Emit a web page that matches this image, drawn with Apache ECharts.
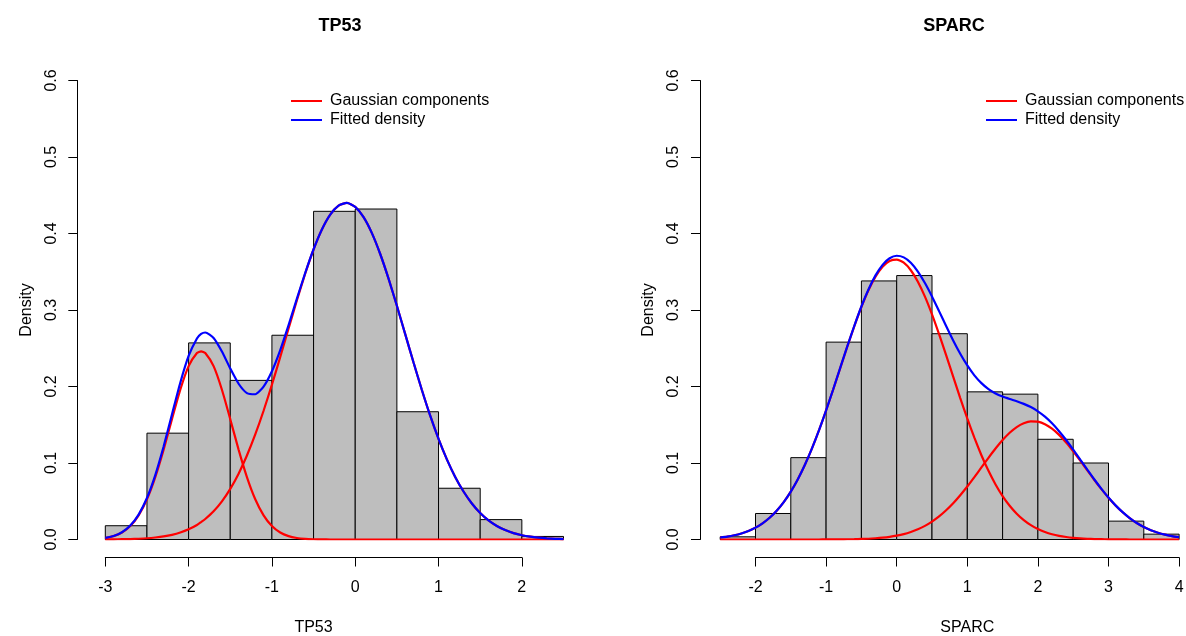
<!DOCTYPE html>
<html>
<head>
<meta charset="utf-8">
<script src="https://cdn.jsdelivr.net/npm/echarts@6/dist/echarts.min.js"></script>
<style>
  html, body { margin: 0; padding: 0; background: #fff; }
  #chart { width: 1186px; height: 636px; }
</style>
</head>
<body>
<div id="chart"></div>
<script>
// histogram breaks and densities
var tp53Breaks = [-3, -2.5, -2, -1.5, -1, -0.5, 0, 0.5, 1, 1.5, 2, 2.5];
var tp53Density = [0.018, 0.139, 0.257, 0.208, 0.267, 0.429, 0.432, 0.167, 0.067, 0.026, 0.004];

var sparcBreaks = [-2.5, -2, -1.5, -1, -0.5, 0, 0.5, 1, 1.5, 2, 2.5, 3, 3.5, 4];
var sparcDensity = [0.0035, 0.034, 0.107, 0.258, 0.338, 0.345, 0.269, 0.193, 0.190, 0.131, 0.100, 0.024, 0.007];

// curves
var tp53X = [-3.0, -2.9, -2.8, -2.7, -2.6, -2.5, -2.4, -2.3, -2.2, -2.1, -2.0, -1.9, -1.85, -1.8, -1.7, -1.6, -1.5,
  -1.4, -1.3, -1.2, -1.1, -1.0, -0.9, -0.8, -0.7, -0.6, -0.5, -0.4, -0.3, -0.2, -0.1, 0.0, 0.1, 0.2, 0.3,
  0.4, 0.5, 0.6, 0.7, 0.8, 0.9, 1.0, 1.1, 1.2, 1.3, 1.4, 1.5, 1.6, 1.7, 1.8, 1.9, 2.0, 2.1, 2.2, 2.3, 2.4, 2.5];
var tp53Comp1 = [0.0020, 0.0044, 0.0091, 0.0176, 0.0316, 0.0526, 0.0816, 0.1175, 0.1573, 0.1958, 0.2266,
  0.2438, 0.2460, 0.2438, 0.2266, 0.1958, 0.1573, 0.1175, 0.0816, 0.0526, 0.0316, 0.0176, 0.0091, 0.0044, 0.0020,
  0.0008, 0.0003, 0.0001, 0, 0, 0, 0, 0, 0, 0, 0, 0, 0, 0, 0, 0, 0, 0, 0, 0, 0, 0, 0, 0, 0, 0, 0, 0, 0, 0, 0, 0];
var tp53Comp2 = [0.0001, 0.0002, 0.0004, 0.0006, 0.0010, 0.0016, 0.0026, 0.0040, 0.0061, 0.0091, 0.0133,
  0.0190, 0.0228, 0.0268, 0.0369, 0.0499, 0.0662, 0.0861, 0.1098, 0.1373, 0.1683, 0.2024, 0.2386, 0.2759, 0.3128,
  0.3477, 0.3791, 0.4052, 0.4247, 0.4365, 0.4400, 0.4348, 0.4214, 0.4005, 0.3732, 0.3410, 0.3055, 0.2684,
  0.2313, 0.1954, 0.1618, 0.1315, 0.1047, 0.0818, 0.0627, 0.0471, 0.0347, 0.0250, 0.0177, 0.0123, 0.0084,
  0.0056, 0.0037, 0.0024, 0.0015, 0.0009, 0.0006];
var tp53Fitted = [0.0021, 0.0046, 0.0095, 0.0182, 0.0326, 0.0542, 0.0842, 0.1215, 0.1634, 0.2049, 0.2399,
  0.2628, 0.2688, 0.2706, 0.2635, 0.2457, 0.2235, 0.2036, 0.1914, 0.1899, 0.1999, 0.2200, 0.2477, 0.2803, 0.3148,
  0.3485, 0.3794, 0.4053, 0.4247, 0.4365, 0.4400, 0.4348, 0.4214, 0.4005, 0.3732, 0.3410, 0.3055, 0.2684,
  0.2313, 0.1954, 0.1618, 0.1315, 0.1047, 0.0818, 0.0627, 0.0471, 0.0347, 0.0250, 0.0177, 0.0123, 0.0084,
  0.0056, 0.0037, 0.0024, 0.0015, 0.0009, 0.0006];

var sparcX = [-2.5, -2.4, -2.3, -2.2, -2.1, -2.0, -1.9, -1.8, -1.7, -1.6, -1.5, -1.4, -1.3, -1.2, -1.1, -1.0,
  -0.9, -0.8, -0.7, -0.6, -0.5, -0.4, -0.3, -0.2, -0.1, 0.0, 0.1, 0.2, 0.3, 0.4, 0.5, 0.6, 0.7, 0.8, 0.9,
  1.0, 1.1, 1.2, 1.3, 1.4, 1.5, 1.6, 1.7, 1.8, 1.9, 2.0, 2.1, 2.2, 2.3, 2.4, 2.5, 2.6, 2.7, 2.8, 2.9,
  3.0, 3.1, 3.2, 3.3, 3.4, 3.5, 3.6, 3.7, 3.8, 3.9, 4.0];
var sparcComp1 = [0.0026, 0.0038, 0.0055, 0.0079, 0.0112, 0.0155, 0.0212, 0.0284, 0.0376, 0.0489,
  0.0626, 0.0788, 0.0977, 0.1191, 0.1429, 0.1687, 0.1960, 0.2241, 0.2521, 0.2790,
  0.3039, 0.3258, 0.3436, 0.3566, 0.3641, 0.3659, 0.3618, 0.3520, 0.3370, 0.3175,
  0.2943, 0.2684, 0.2409, 0.2128, 0.1849, 0.1582, 0.1331, 0.1102, 0.0898, 0.0720,
  0.0568, 0.0441, 0.0337, 0.0253, 0.0187, 0.0136, 0.0098, 0.0069, 0.0048, 0.0033,
  0.0022, 0.0014, 0.0009, 0.0006, 0.0004, 0.0002, 0.0001, 0.0001, 0, 0, 0, 0, 0, 0, 0, 0];
var sparcComp2 = [0, 0, 0, 0, 0, 0, 0, 0, 0, 0, 0, 0, 0, 0, 0,
  0.0001, 0.0001, 0.0002, 0.0003, 0.0004, 0.0007, 0.0010, 0.0016, 0.0024, 0.0035,
  0.0050, 0.0070, 0.0098, 0.0133, 0.0178, 0.0234, 0.0301, 0.0382, 0.0474, 0.0579,
  0.0693, 0.0815, 0.0942, 0.1068, 0.1189, 0.1300, 0.1395, 0.1470, 0.1520, 0.1544,
  0.1540, 0.1508, 0.1450, 0.1368, 0.1268, 0.1153, 0.1030, 0.0904, 0.0778, 0.0658,
  0.0546, 0.0445, 0.0356, 0.0280, 0.0216, 0.0163, 0.0122, 0.0089, 0.0064, 0.0045, 0.0031];
var sparcFitted = [0.0026, 0.0038, 0.0055, 0.0079, 0.0112, 0.0155, 0.0212, 0.0284, 0.0376, 0.0489,
  0.0626, 0.0788, 0.0977, 0.1191, 0.1429,
  0.1688, 0.1961, 0.2243, 0.2524, 0.2794, 0.3046, 0.3268, 0.3452, 0.3590, 0.3676,
  0.3709, 0.3688, 0.3618, 0.3503, 0.3353, 0.3177, 0.2985, 0.2791, 0.2602, 0.2428,
  0.2275, 0.2146, 0.2044, 0.1966, 0.1909, 0.1868, 0.1836, 0.1807, 0.1773, 0.1731,
  0.1676, 0.1606, 0.1519, 0.1416, 0.1301, 0.1175, 0.1044, 0.0913, 0.0784, 0.0662,
  0.0548, 0.0446, 0.0357, 0.0280, 0.0216, 0.0163, 0.0122, 0.0089, 0.0064, 0.0045, 0.0031];

var FONT = '"Liberation Sans", Arial, sans-serif';

function pairs(xs, ys) {
  return xs.map(function (x, i) { return [x, ys[i]]; });
}

function bins(breaks, dens) {
  return dens.map(function (d, i) { return [breaks[i], breaks[i + 1], d]; });
}

function histSeries(breaks, dens, idx) {
  return {
    type: 'custom',
    xAxisIndex: idx, yAxisIndex: idx,
    silent: true,
    encode: { x: [0, 1], y: 2 },
    data: bins(breaks, dens),
    renderItem: function (params, api) {
      var p0 = api.coord([api.value(0), api.value(2)]);
      var p1 = api.coord([api.value(1), 0]);
      return {
        type: 'rect',
        shape: { x: p0[0], y: p0[1], width: p1[0] - p0[0], height: p1[1] - p0[1] },
        style: { fill: '#bebebe', stroke: '#000', lineWidth: 1 }
      };
    }
  };
}

function curve(name, xs, ys, color, idx) {
  return {
    name: name, type: 'line', xAxisIndex: idx, yAxisIndex: idx,
    data: pairs(xs, ys), showSymbol: false, symbol: 'none', smooth: 0.2,
    lineStyle: { color: color, width: 2.2 }, itemStyle: { color: color },
    silent: true, z: 3
  };
}

function histAxisY(idx, offset) {
  return {
    gridIndex: idx, type: 'value', min: 0, max: 0.6, interval: 0.1, offset: offset,
    axisLine: { show: true, onZero: false, lineStyle: { color: '#000', width: 1 } },
    axisTick: { show: true, length: 9, lineStyle: { color: '#000' } },
    axisLabel: { rotate: 90, margin: 18, fontSize: 16, color: '#000', fontFamily: FONT,
      formatter: function (v) { return v.toFixed(1); } },
    splitLine: { show: false },
    name: 'Density', nameLocation: 'middle', nameRotate: 90, nameGap: 43,
    nameTextStyle: { fontSize: 16, color: '#000', fontFamily: FONT }
  };
}

function tickAxisX(idx, min, max, name) {
  return {
    gridIndex: idx, type: 'value', min: min, max: max, interval: 1,
    axisLine: { show: true, onZero: false, lineStyle: { color: '#000', width: 1 } },
    axisTick: { show: true, length: 9, lineStyle: { color: '#000' } },
    axisLabel: { margin: 22, fontSize: 16, color: '#000', fontFamily: FONT },
    splitLine: { show: false },
    name: name, nameLocation: 'middle', nameGap: 62,
    nameTextStyle: { fontSize: 16, color: '#000', fontFamily: FONT }
  };
}

function legendAt(left) {
  return {
    data: ['Gaussian components', 'Fitted density'],
    left: left, top: 88, orient: 'vertical',
    icon: 'rect', itemWidth: 31, itemHeight: 2, itemGap: 3,
    selectedMode: false,
    textStyle: { fontSize: 16, color: '#000', fontFamily: FONT, padding: [0, 0, 0, 3] }
  };
}

var chart = echarts.init(document.getElementById('chart'), null, { renderer: 'canvas' });

chart.setOption({
  backgroundColor: '#fff',
  animation: false,
  title: [
    { text: 'TP53', left: 335, top: 12, textAlign: 'center',
      textStyle: { fontSize: 18, fontWeight: 'bold', color: '#000', fontFamily: FONT } },
    { text: 'SPARC', left: 949, top: 12, textAlign: 'center',
      textStyle: { fontSize: 18, fontWeight: 'bold', color: '#000', fontFamily: FONT } }
  ],
  legend: [legendAt(286), legendAt(981)],
  grid: [
    { left: 105.3, right: 622.5, top: 80.5, bottom: 96.5, outerBoundsMode: 'none' },
    { left: 105.3, right: 664.2, top: 80.5, bottom: 78.5, outerBoundsMode: 'none' },
    { left: 720.2, right: 6.9, top: 80.5, bottom: 96.5, outerBoundsMode: 'none' },
    { left: 755.5, right: 6.9, top: 80.5, bottom: 78.5, outerBoundsMode: 'none' }
  ],
  xAxis: [
    { gridIndex: 0, type: 'value', min: -3, max: 2.5, show: false },
    tickAxisX(1, -3, 2, 'TP53'),
    { gridIndex: 2, type: 'value', min: -2.5, max: 4, show: false },
    tickAxisX(3, -2, 4, 'SPARC')
  ],
  yAxis: [
    histAxisY(0, 28),
    { gridIndex: 1, type: 'value', min: 0, max: 1, show: false },
    histAxisY(2, 20.2),
    { gridIndex: 3, type: 'value', min: 0, max: 1, show: false }
  ],
  series: [
    histSeries(tp53Breaks, tp53Density, 0),
    curve('Gaussian components', tp53X, tp53Comp1, '#ff0000', 0),
    curve('Gaussian components', tp53X, tp53Comp2, '#ff0000', 0),
    curve('Fitted density', tp53X, tp53Fitted, '#0000ff', 0),
    histSeries(sparcBreaks, sparcDensity, 2),
    curve('Gaussian components', sparcX, sparcComp1, '#ff0000', 2),
    curve('Gaussian components', sparcX, sparcComp2, '#ff0000', 2),
    curve('Fitted density', sparcX, sparcFitted, '#0000ff', 2)
  ]
});

window.addEventListener('resize', chart.resize);
</script>
</body>
</html>
